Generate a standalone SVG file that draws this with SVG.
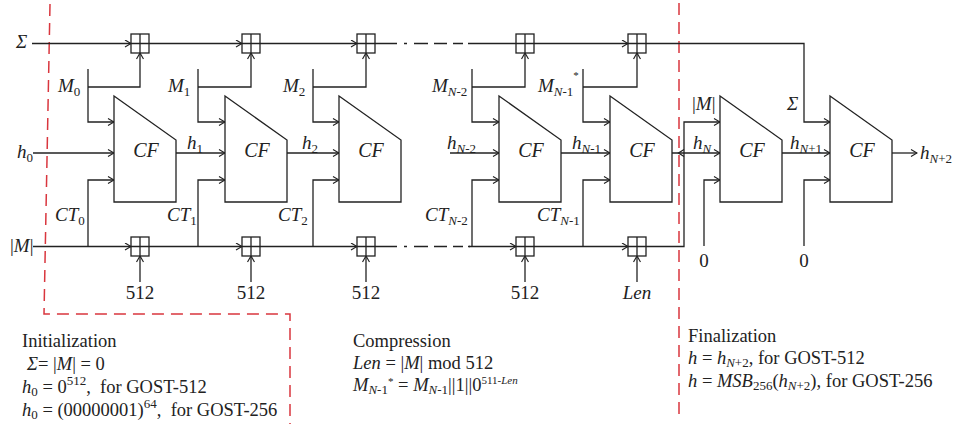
<svg xmlns="http://www.w3.org/2000/svg" width="953" height="425" viewBox="0 0 953 425" font-family="'Liberation Serif', 'DejaVu Serif', serif">
<style>
.ln{fill:none;stroke:#222;stroke-width:1.3}
.blk{fill:#fff;stroke:#222;stroke-width:1.3}
.add{fill:#fff;stroke:#222;stroke-width:1.3}
.red{fill:none;stroke:#d9363e;stroke-width:1.5;stroke-dasharray:12 7}
text{font-family:'Liberation Serif','DejaVu Serif',serif}
.t{font-size:19px;fill:#222}
.cf{font-size:20px;font-style:italic;fill:#222;text-anchor:middle}
.b{font-size:18.5px;fill:#222}
.i{font-style:italic}
.s{font-size:13px}
.ss{font-size:11px}
.m{text-anchor:middle}
</style>
<defs>
<marker id="a" viewBox="0 0 8 8" markerWidth="8" markerHeight="8" refX="7.5" refY="4" orient="auto" markerUnits="userSpaceOnUse">
<path d="M1.5,0.5 L7.5,4 L1.5,7.5" fill="none" stroke="#222" stroke-width="1.2"/>
</marker>
<path id="cfshape" d="M0,0 L62,44 V106 H0 Z"/>
<g id="adder"><rect x="-9" y="-9.5" width="18" height="19"/><path d="M0,-9.5 V9.5 M-9,0 H9"/></g>
</defs>

<g id="phases">
<path class="red" d="M50,4 L44,314 H290 V424"/>
<path class="red" d="M679,3 V421"/>
</g>

<g id="connectors">
<path class="ln" d="M32,43.5 H131" marker-end="url(#a)"/>
<path class="ln" d="M149,43.5 H242" marker-end="url(#a)"/>
<path class="ln" d="M260,43.5 H357" marker-end="url(#a)"/>
<path class="ln" d="M375,43.5 H516" style="stroke-dasharray:22 7 3 7 14 6 13 6 10 5 100"/>
<path class="ln" d="M534,43.5 H628" marker-end="url(#a)"/>
<path class="ln" d="M646,43.5 H804 V122 H830" marker-end="url(#a)"/>
<path class="ln" d="M33,246.5 H131" marker-end="url(#a)"/>
<path class="ln" d="M149,246.5 H242" marker-end="url(#a)"/>
<path class="ln" d="M260,246.5 H357" marker-end="url(#a)"/>
<path class="ln" d="M375,246.5 H470" style="stroke-dasharray:22 7 3 7 14 6 13 6 10 5 100"/>
<path class="ln" d="M469,246.5 H516" marker-end="url(#a)"/>
<path class="ln" d="M534,246.5 H628" marker-end="url(#a)"/>
<path class="ln" d="M646,246.5 H684 V122 H720" marker-end="url(#a)"/>
<path class="ln" d="M88,69 V122 H114" marker-end="url(#a)"/>
<path class="ln" d="M88,87 H140 V53" marker-end="url(#a)"/>
<path class="ln" d="M198,69 V122 H225" marker-end="url(#a)"/>
<path class="ln" d="M198,87 H251 V53" marker-end="url(#a)"/>
<path class="ln" d="M313,69 V122 H339" marker-end="url(#a)"/>
<path class="ln" d="M313,87 H366 V53" marker-end="url(#a)"/>
<path class="ln" d="M472,69 V122 H499" marker-end="url(#a)"/>
<path class="ln" d="M472,87 H525 V53" marker-end="url(#a)"/>
<path class="ln" d="M583,69 V122 H610" marker-end="url(#a)"/>
<path class="ln" d="M583,87 H637 V53" marker-end="url(#a)"/>
<path class="ln" d="M33,153 H114" marker-end="url(#a)"/>
<path class="ln" d="M176,153 H225" marker-end="url(#a)"/>
<path class="ln" d="M287,153 H339" marker-end="url(#a)"/>
<path class="ln" d="M450,153 H499" marker-end="url(#a)"/>
<path class="ln" d="M561,153 H610" marker-end="url(#a)"/>
<path class="ln" d="M672,153 H720" marker-end="url(#a)"/>
<path class="ln" d="M684,149.5 L678.5,153 L684,156.5"/>
<path class="ln" d="M782,153 H830" marker-end="url(#a)"/>
<path class="ln" d="M892,153 H917" marker-end="url(#a)"/>
<path class="ln" d="M88,246.5 V180 H114" marker-end="url(#a)"/>
<path class="ln" d="M198,246.5 V180 H225" marker-end="url(#a)"/>
<path class="ln" d="M313,246.5 V180 H339" marker-end="url(#a)"/>
<path class="ln" d="M472,246.5 V180 H499" marker-end="url(#a)"/>
<path class="ln" d="M583,246.5 V180 H610" marker-end="url(#a)"/>
<path class="ln" d="M704,246 V180 H720" marker-end="url(#a)"/>
<path class="ln" d="M804,246 V180 H830" marker-end="url(#a)"/>
<path class="ln" d="M140,282 V256" marker-end="url(#a)"/>
<path class="ln" d="M251,282 V256" marker-end="url(#a)"/>
<path class="ln" d="M366,282 V256" marker-end="url(#a)"/>
<path class="ln" d="M525,282 V256" marker-end="url(#a)"/>
<path class="ln" d="M637,282 V256" marker-end="url(#a)"/>
</g>

<g id="cf1"><use href="#cfshape" class="blk" x="114" y="96"/><text class="cf" x="146" y="157">CF</text></g>
<g id="cf2"><use href="#cfshape" class="blk" x="225" y="96"/><text class="cf" x="257" y="157">CF</text></g>
<g id="cf3"><use href="#cfshape" class="blk" x="339" y="96"/><text class="cf" x="371" y="157">CF</text></g>
<g id="cf4"><use href="#cfshape" class="blk" x="499" y="96"/><text class="cf" x="531" y="157">CF</text></g>
<g id="cf5"><use href="#cfshape" class="blk" x="610" y="96"/><text class="cf" x="642" y="157">CF</text></g>
<g id="cf6"><use href="#cfshape" class="blk" x="720" y="96"/><text class="cf" x="752" y="157">CF</text></g>
<g id="cf7"><use href="#cfshape" class="blk" x="830" y="96"/><text class="cf" x="862" y="157">CF</text></g>

<g id="addS1"><use href="#adder" class="add" x="140" y="43.5"/></g>
<g id="addS2"><use href="#adder" class="add" x="251" y="43.5"/></g>
<g id="addS3"><use href="#adder" class="add" x="366" y="43.5"/></g>
<g id="addS4"><use href="#adder" class="add" x="525" y="43.5"/></g>
<g id="addS5"><use href="#adder" class="add" x="637" y="43.5"/></g>
<g id="addL1"><use href="#adder" class="add" x="140" y="246.5"/></g>
<g id="addL2"><use href="#adder" class="add" x="251" y="246.5"/></g>
<g id="addL3"><use href="#adder" class="add" x="366" y="246.5"/></g>
<g id="addL4"><use href="#adder" class="add" x="525" y="246.5"/></g>
<g id="addL5"><use href="#adder" class="add" x="637" y="246.5"/></g>

<g id="labels">
<text class="t i" x="16" y="48">Σ</text>
<text class="t" x="17" y="158"><tspan class="i">h</tspan><tspan class="s" dy="4">0</tspan></text>
<text class="t" x="10" y="252">|<tspan class="i">M</tspan>|</text>
<text class="t" x="58" y="92"><tspan class="i">M</tspan><tspan class="s" dy="4">0</tspan></text>
<text class="t" x="168" y="92"><tspan class="i">M</tspan><tspan class="s" dy="4">1</tspan></text>
<text class="t" x="283" y="92"><tspan class="i">M</tspan><tspan class="s" dy="4">2</tspan></text>
<text class="t" x="432" y="92"><tspan class="i">M</tspan><tspan class="s i" dy="4">N</tspan><tspan class="s">-2</tspan></text>
<text class="t" x="538" y="92"><tspan class="i">M</tspan><tspan class="s i" dy="4">N</tspan><tspan class="s">-1</tspan><tspan class="ss" dy="-17">*</tspan></text>
<text class="t" x="187" y="149"><tspan class="i">h</tspan><tspan class="s" dy="4">1</tspan></text>
<text class="t" x="302" y="149"><tspan class="i">h</tspan><tspan class="s" dy="4">2</tspan></text>
<text class="t" x="447" y="149"><tspan class="i">h</tspan><tspan class="s i" dy="4">N</tspan><tspan class="s">-2</tspan></text>
<text class="t" x="572" y="149"><tspan class="i">h</tspan><tspan class="s i" dy="4">N</tspan><tspan class="s">-1</tspan></text>
<text class="t" x="693" y="149"><tspan class="i">h</tspan><tspan class="s i" dy="4">N</tspan></text>
<text class="t" x="790" y="149"><tspan class="i">h</tspan><tspan class="s i" dy="4">N</tspan><tspan class="s">+1</tspan></text>
<text class="t" x="920" y="159"><tspan class="i">h</tspan><tspan class="s i" dy="4">N</tspan><tspan class="s">+2</tspan></text>
<text class="t" x="55" y="221"><tspan class="i">CT</tspan><tspan class="s" dy="4">0</tspan></text>
<text class="t" x="167" y="221"><tspan class="i">CT</tspan><tspan class="s" dy="4">1</tspan></text>
<text class="t" x="278" y="221"><tspan class="i">CT</tspan><tspan class="s" dy="4">2</tspan></text>
<text class="t" x="425" y="221"><tspan class="i">CT</tspan><tspan class="s i" dy="4">N</tspan><tspan class="s">-2</tspan></text>
<text class="t" x="537" y="221"><tspan class="i">CT</tspan><tspan class="s i" dy="4">N</tspan><tspan class="s">-1</tspan></text>
<text class="t m" x="140" y="299">512</text>
<text class="t m" x="251" y="299">512</text>
<text class="t m" x="366" y="299">512</text>
<text class="t m" x="525" y="299">512</text>
<text class="t m i" x="637" y="299">Len</text>
<text class="t" x="692" y="110">|<tspan class="i">M</tspan>|</text>
<text class="t i" x="787" y="110">Σ</text>
<text class="t m" x="704" y="267">0</text>
<text class="t m" x="804" y="267">0</text>
</g>

<g id="notes">
<text class="b" x="22" y="347">Initialization</text>
<text class="b" x="27" y="370"><tspan class="i">Σ</tspan>= |<tspan class="i">M</tspan>| = 0</text>
<text class="b" x="22" y="393"><tspan class="i">h</tspan><tspan class="s" dy="3">0</tspan><tspan dy="-3"> = 0</tspan><tspan class="s" dy="-8">512</tspan><tspan dy="8">,&#160; for GOST-512</tspan></text>
<text class="b" x="22" y="416"><tspan class="i">h</tspan><tspan class="s" dy="3">0</tspan><tspan dy="-3"> = (00000001)</tspan><tspan class="s" dy="-8">64</tspan><tspan dy="8">,&#160; for GOST-256</tspan></text>
<text class="b" x="353" y="347">Compression</text>
<text class="b" x="353" y="369"><tspan class="i">Len</tspan> = |<tspan class="i">M</tspan>| mod 512</text>
<text class="b" x="353" y="391"><tspan class="i">M</tspan><tspan class="s i" dy="3">N</tspan><tspan class="s">-1</tspan><tspan class="ss" dy="-9">*</tspan><tspan dy="6"> = </tspan><tspan class="i">M</tspan><tspan class="s i" dy="3">N</tspan><tspan class="s">-1</tspan><tspan dy="-3">||1||0</tspan><tspan class="ss" dy="-7">511-</tspan><tspan class="ss i">Len</tspan></text>
<text class="b" x="688" y="342">Finalization</text>
<text class="b" x="688" y="364"><tspan class="i">h</tspan> = <tspan class="i">h</tspan><tspan class="s i" dy="3">N</tspan><tspan class="s">+2</tspan><tspan dy="-3">, for GOST-512</tspan></text>
<text class="b" x="688" y="387"><tspan class="i">h</tspan> = <tspan class="i">MSB</tspan><tspan class="s" dy="3">256</tspan><tspan dy="-3">(</tspan><tspan class="i">h</tspan><tspan class="s i" dy="3">N</tspan><tspan class="s">+2</tspan><tspan dy="-3">), for GOST-256</tspan></text>
</g>
</svg>
